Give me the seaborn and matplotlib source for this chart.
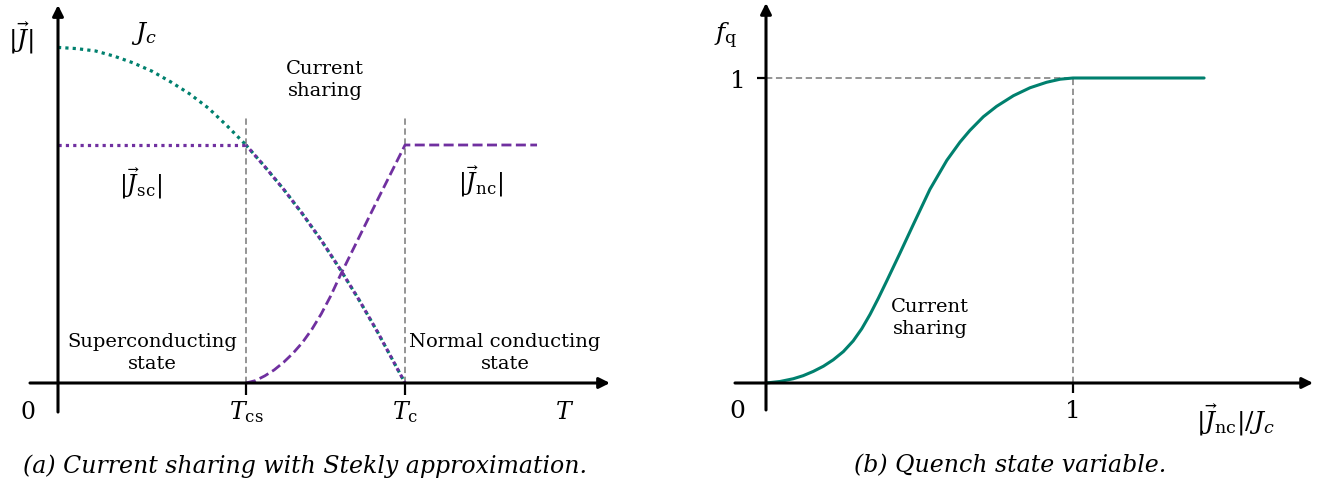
import numpy as np
import matplotlib
matplotlib.use('Agg')
import matplotlib.pyplot as plt
import seaborn as sns

sns.set_theme(style='white')
plt.rcParams['font.family'] = ['DejaVu Serif']
plt.rcParams['mathtext.fontset'] = 'dejavuserif'
plt.rcParams['text.color'] = 'black'

teal = '#00806e'
purple = '#7030a0'
gris = '#8c8c8c'

# (a) densidades de corriente frente a T (T en unidades de T_cs, J en unidades de |J|)
t_cs = 1.0
t_c = 1.846
t_jc = np.array([0.0, 0.1, 0.2, 0.3, 0.4, 0.5, 0.6, 0.7, 0.8, 0.9, 1.0,
                 1.1, 1.2, 1.3, 1.4, 1.5, 1.6, 1.7, 1.846])
j_jc = np.array([1.41, 1.405, 1.395, 1.373, 1.345, 1.31, 1.265, 1.215, 1.155, 1.08, 1.0,
                 0.909, 0.814, 0.711, 0.600, 0.479, 0.351, 0.214, 0.0])
t_jsc = np.array([0.0, 1.0, 1.1, 1.2, 1.3, 1.4, 1.5, 1.6, 1.7, 1.846])
j_jsc = np.array([1.0, 1.0, 0.909, 0.814, 0.711, 0.600, 0.479, 0.351, 0.214, 0.0])
t_jnc = np.array([1.0, 1.05, 1.1, 1.15, 1.2, 1.25, 1.3, 1.35, 1.4, 1.45, 1.5,
                  1.6, 1.7, 1.846, 2.548])
j_jnc = np.array([0.0, 0.01, 0.03, 0.055, 0.087, 0.125, 0.17, 0.225, 0.29, 0.365, 0.45,
                  0.61, 0.77, 1.0, 1.0])
ticks_a = [t_cs, t_c]
ticklabels_a = [r'$T_{\mathrm{cs}}$', r'$T_{\mathrm{c}}$']

# (b) variable de estado de quench
u_fq = [0.0, 0.046, 0.089, 0.121, 0.154, 0.187, 0.219, 0.252, 0.284, 0.312, 0.339,
        0.366, 0.393, 0.436, 0.48, 0.534, 0.589, 0.632, 0.664, 0.708, 0.751, 0.806,
        0.86, 0.914, 0.958, 1.0, 1.427]
f_fq = [0.0, 0.005, 0.014, 0.024, 0.038, 0.055, 0.076, 0.103, 0.138, 0.178, 0.225,
        0.278, 0.334, 0.425, 0.52, 0.635, 0.73, 0.79, 0.828, 0.873, 0.907, 0.942,
        0.968, 0.986, 0.996, 1.0, 1.0]

fig = plt.figure(figsize=(13.2, 5), dpi=100)
ax1 = fig.add_axes([0, 60 / 500, 660 / 1320, 440 / 500])
ax2 = fig.add_axes([660 / 1320, 60 / 500, 660 / 1320, 440 / 500])
ax1.set_xlim(-58 / 188, 602 / 188)
ax1.set_ylim(-57 / 238, 383 / 238)
ax2.set_xlim(-106 / 307, 554 / 307)
ax2.set_ylim(-57 / 305, 383 / 305)
for ax in (ax1, ax2):
    ax.axis('off')

flecha = dict(arrowstyle='-|>', lw=2.2, color='black', mutation_scale=16,
              shrinkA=0, shrinkB=0)
punteado = (0, (1, 1.3))
guion_gris = dict(color=gris, lw=1.3, linestyle=(0, (3.5, 2)))

# ---- panel (a)
ax1.vlines(ticks_a, 0, 1.126, **guion_gris)
ax1.annotate('', xy=(2.936, 0), xytext=(-0.149, 0), arrowprops=flecha)
ax1.annotate('', xy=(0, 1.588), xytext=(0, -0.122), arrowprops=flecha)
ax1.vlines(ticks_a, -0.05, 0, color='black', lw=1.6)

antes = t_jc <= t_cs
despues = t_jc >= t_cs
sns.lineplot(x=t_jc[antes], y=j_jc[antes], ax=ax1, color=teal, lw=2.3, linestyle=punteado)
sns.lineplot(x=t_jc[despues], y=j_jc[despues], ax=ax1, color=teal, lw=2.3, linestyle=punteado)
sc_antes = t_jsc <= t_cs
sc_despues = t_jsc >= t_cs
sns.lineplot(x=t_jsc[sc_antes], y=j_jsc[sc_antes], ax=ax1, color=purple, lw=2.3, linestyle=punteado)
sns.lineplot(x=t_jsc[sc_despues], y=j_jsc[sc_despues], ax=ax1, color=purple, lw=2.3,
             linestyle=(0.5, (1, 1.3)))
sns.lineplot(x=t_jnc, y=j_jnc, ax=ax1, color=purple, lw=2.0, linestyle=(0, (3.6, 1.6)))

fs = 14
ax1.text(-0.20, 1.45, r'$|\vec{J}|$', fontsize=18, ha='center', va='center')
ax1.text(0.457, 1.47, r'$J_c$', fontsize=18, ha='center', va='center')
ax1.text(0.436, 0.84, r'$|\vec{J}_{\mathrm{sc}}|$', fontsize=17, ha='center', va='center')
ax1.text(2.245, 0.849, r'$|\vec{J}_{\mathrm{nc}}|$', fontsize=17, ha='center', va='center')
ax1.text(1.42, 1.273, 'Current\nsharing', fontsize=fs, ha='center', va='center', linespacing=1.3)
ax1.text(0.5, 0.126, 'Superconducting\nstate', fontsize=fs, ha='center', va='center', linespacing=1.3)
ax1.text(2.378, 0.126, 'Normal conducting\nstate', fontsize=fs, ha='center', va='center', linespacing=1.3)
ax1.text(-0.16, -0.122, '0', fontsize=17, ha='center', va='center')
for t, lab in zip(ticks_a, ticklabels_a):
    ax1.text(t, -0.122, lab, fontsize=17, ha='center', va='center')
ax1.text(2.697, -0.122, r'$T$', fontsize=17, ha='center', va='center')

# ---- panel (b)
ax2.hlines(1, 0, 1, **guion_gris)
ax2.vlines(1, 0, 1, **guion_gris)
ax2.annotate('', xy=(1.782, 0), xytext=(-0.101, 0), arrowprops=flecha)
ax2.annotate('', xy=(0, 1.246), xytext=(0, -0.0885), arrowprops=flecha)
ax2.vlines(1, -0.033, 0, color='black', lw=1.6)
ax2.hlines(1, -0.03, 0, color='black', lw=1.6)
sns.lineplot(x=u_fq, y=f_fq, ax=ax2, color=teal, lw=2.2)

ax2.text(-0.13, 1.14, r'$f_{\mathrm{q}}$', fontsize=18, ha='center', va='center')
ax2.text(-0.091, 0.99, '1', fontsize=18, ha='center', va='center')
ax2.text(-0.094, -0.095, '0', fontsize=18, ha='center', va='center')
ax2.text(1.0, -0.095, '1', fontsize=18, ha='center', va='center')
ax2.text(1.528, -0.121, r'$|\vec{J}_{\mathrm{nc}}|/J_c$', fontsize=18, ha='center', va='center')
ax2.text(0.534, 0.213, 'Current\nsharing', fontsize=fs, ha='center', va='center', linespacing=1.3)

fig.text(305 / 1320, 1 - 466 / 500, '(a) Current sharing with Stekly approximation.',
         style='italic', fontsize=17, ha='center', va='center')
fig.text(1010 / 1320, 1 - 466 / 500, '(b) Quench state variable.',
         style='italic', fontsize=17, ha='center', va='center')

fig.savefig('out.png', dpi=100)
